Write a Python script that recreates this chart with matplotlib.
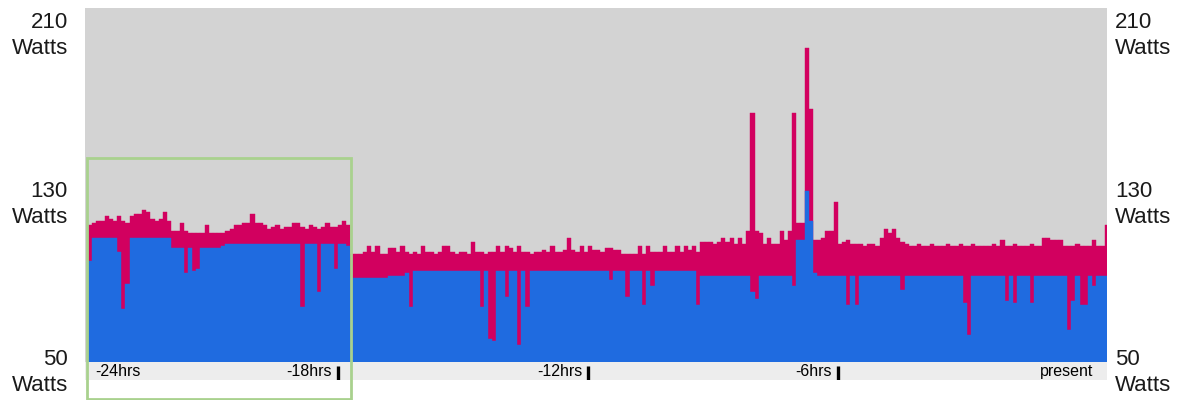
import numpy as np
import matplotlib.pyplot as plt
from matplotlib.patches import Rectangle

plt.rcParams['font.family'] = ['Liberation Sans', 'DejaVu Sans']

# ---------------------------------------------
#  power readings, one bar every 6 minutes (-24h .. present)
# ---------------------------------------------
total_w = [
    114, 115, 116, 116, 118, 117, 116, 118, 116, 115,
    118, 119, 119, 121, 120, 117, 116, 117, 120, 116,
    111, 111, 115, 111, 110, 110, 110, 110, 114, 110,
    110, 110, 110, 111, 112, 114, 114, 115, 115, 119,
    115, 115, 114, 112, 113, 114, 112, 113, 113, 115,
    115, 113, 112, 114, 113, 112, 113, 115, 113, 113,
    114, 116, 114, 100, 100, 100, 101, 104, 101, 104,
    100, 100, 103, 103, 101, 104, 101, 100, 101, 100,
    104, 101, 101, 100, 101, 104, 104, 101, 100, 101,
    101, 100, 106, 101, 101, 100, 101, 101, 104, 101,
    104, 103, 101, 104, 101, 101, 100, 101, 101, 102,
    101, 104, 101, 101, 102, 108, 102, 101, 104, 101,
    104, 102, 102, 101, 103, 103, 102, 102, 100, 100,
    100, 100, 104, 100, 104, 101, 101, 101, 104, 101,
    101, 104, 101, 104, 102, 104, 101, 106, 106, 106,
    105, 106, 108, 106, 108, 105, 108, 105, 111, 167,
    111, 110, 105, 108, 105, 105, 111, 107, 111, 167,
    115, 115, 198, 169, 107, 107, 108, 111, 111, 125,
    105, 106, 107, 105, 105, 105, 104, 105, 105, 104,
    108, 112, 110, 112, 108, 106, 105, 104, 104, 105,
    104, 104, 105, 104, 104, 104, 105, 104, 104, 105,
    104, 104, 105, 104, 104, 104, 104, 105, 104, 107,
    104, 104, 105, 104, 104, 104, 105, 104, 104, 108,
    108, 107, 107, 107, 104, 104, 104, 105, 104, 104,
    104, 107, 104, 104, 114,
]

blue_w = [
    97, 108, 108, 108, 108, 108, 108, 101, 74, 86,
    108, 108, 108, 108, 108, 108, 108, 108, 108, 108,
    103, 103, 103, 91, 103, 92, 93, 103, 103, 103,
    103, 103, 104, 105, 105, 105, 105, 105, 105, 105,
    105, 105, 105, 105, 105, 105, 105, 105, 105, 105,
    105, 75, 105, 105, 105, 82, 105, 105, 105, 93,
    105, 105, 104, 89, 89, 89, 89, 89, 89, 89,
    89, 89, 90, 90, 90, 90, 91, 75, 92, 92,
    92, 92, 92, 92, 92, 92, 92, 92, 92, 92,
    92, 92, 92, 92, 75, 92, 60, 59, 92, 92,
    80, 92, 92, 57, 92, 75, 92, 92, 92, 92,
    92, 92, 92, 92, 92, 92, 92, 92, 92, 92,
    92, 92, 92, 92, 92, 88, 92, 92, 92, 80,
    92, 92, 92, 76, 92, 85, 92, 92, 92, 92,
    92, 92, 92, 92, 92, 92, 76, 90, 90, 90,
    90, 90, 90, 90, 90, 90, 90, 90, 90, 82,
    79, 90, 90, 90, 90, 90, 90, 90, 90, 85,
    107, 107, 130, 116, 91, 90, 90, 90, 90, 90,
    90, 90, 76, 90, 76, 90, 90, 90, 90, 90,
    90, 90, 90, 90, 90, 83, 90, 90, 90, 90,
    90, 90, 90, 90, 90, 90, 90, 90, 90, 90,
    77, 62, 90, 90, 90, 90, 90, 90, 90, 90,
    78, 90, 77, 90, 90, 90, 77, 90, 90, 90,
    90, 90, 90, 90, 90, 64, 78, 90, 76, 76,
    90, 85, 90, 90, 90,
]

y_ticks = [50, 130, 210]
x_tick_hours = [-24, -18, -12, -6, 0]
x_tick_labels = ['-24hrs', '-18hrs', '-12hrs', '-6hrs', 'present']

bar_hours = 0.1
times = -24 + bar_hours * np.arange(len(total_w))

MAGENTA = '#d2005f'
BLUE = '#1f6be0'
W, H = 1179, 400

# ---------------------------------------------
#  main plot
# ---------------------------------------------
fig = plt.figure(figsize=(W / 100, H / 100), dpi=100)
ax = fig.add_axes([85 / W, (H - 362) / H, 1022 / W, 354 / H])
ax.set_facecolor('#d3d3d3')
ax.bar(times, total_w, width=bar_hours, align='edge', color=MAGENTA, edgecolor=MAGENTA, linewidth=0.3)
ax.bar(times, blue_w, width=bar_hours, align='edge', color=BLUE, edgecolor=BLUE, linewidth=0.3)
ax.set_xlim(-24.07, 0.456)
ax.set_ylim(49.05, 216.8)
ax.set_xticks([])
ax.set_yticks([])
for s in ax.spines.values():
    s.set_visible(False)

# y labels on both sides
for v in y_ticks:
    for xf, ha in [(-17 / 1022, 'right'), (1030 / 1022, 'left')]:
        ax.annotate(str(v), xy=(xf, v), xycoords=('axes fraction', 'data'), ha=ha, va='center',
                    fontsize=16, color='#1a1a1a', annotation_clip=False)
        ax.annotate('Watts', xy=(xf, v), xycoords=('axes fraction', 'data'), xytext=(0, -26 * 0.72),
                    textcoords='offset points', ha=ha, va='center', fontsize=16, color='#1a1a1a',
                    annotation_clip=False)

# ---------------------------------------------
#  time strip under the bars
# ---------------------------------------------
ax2 = fig.add_axes([85 / W, (H - 380) / H, 1022 / W, 18 / H])
ax2.set_facecolor('#ededed')
ax2.set_xlim(ax.get_xlim())
ax2.set_ylim(0, 1)
ax2.set_xticks([])
ax2.set_yticks([])
for s in ax2.spines.values():
    s.set_visible(False)

for h, lab in zip(x_tick_hours, x_tick_labels):
    if h == -24:
        ax2.text(h + 0.17, 0.47, lab, ha='left', va='center', fontsize=11.5)
    elif h == 0:
        ax2.text(h + 0.12, 0.47, lab, ha='right', va='center', fontsize=11.5)
    else:
        ax2.text(h - 0.14, 0.47, lab, ha='right', va='center', fontsize=11.5)
        ax2.vlines(h, 0.0, 0.78, color='black', linewidth=2.4)

# green highlight box round the first 6 hours
fig.add_artist(Rectangle((87 / W, 1 / H), (351 - 87) / W, (399 - 158) / H, transform=fig.transFigure,
                         fill=False, edgecolor='#a9d18e', linewidth=2))

fig.savefig('out.png', dpi=100)
